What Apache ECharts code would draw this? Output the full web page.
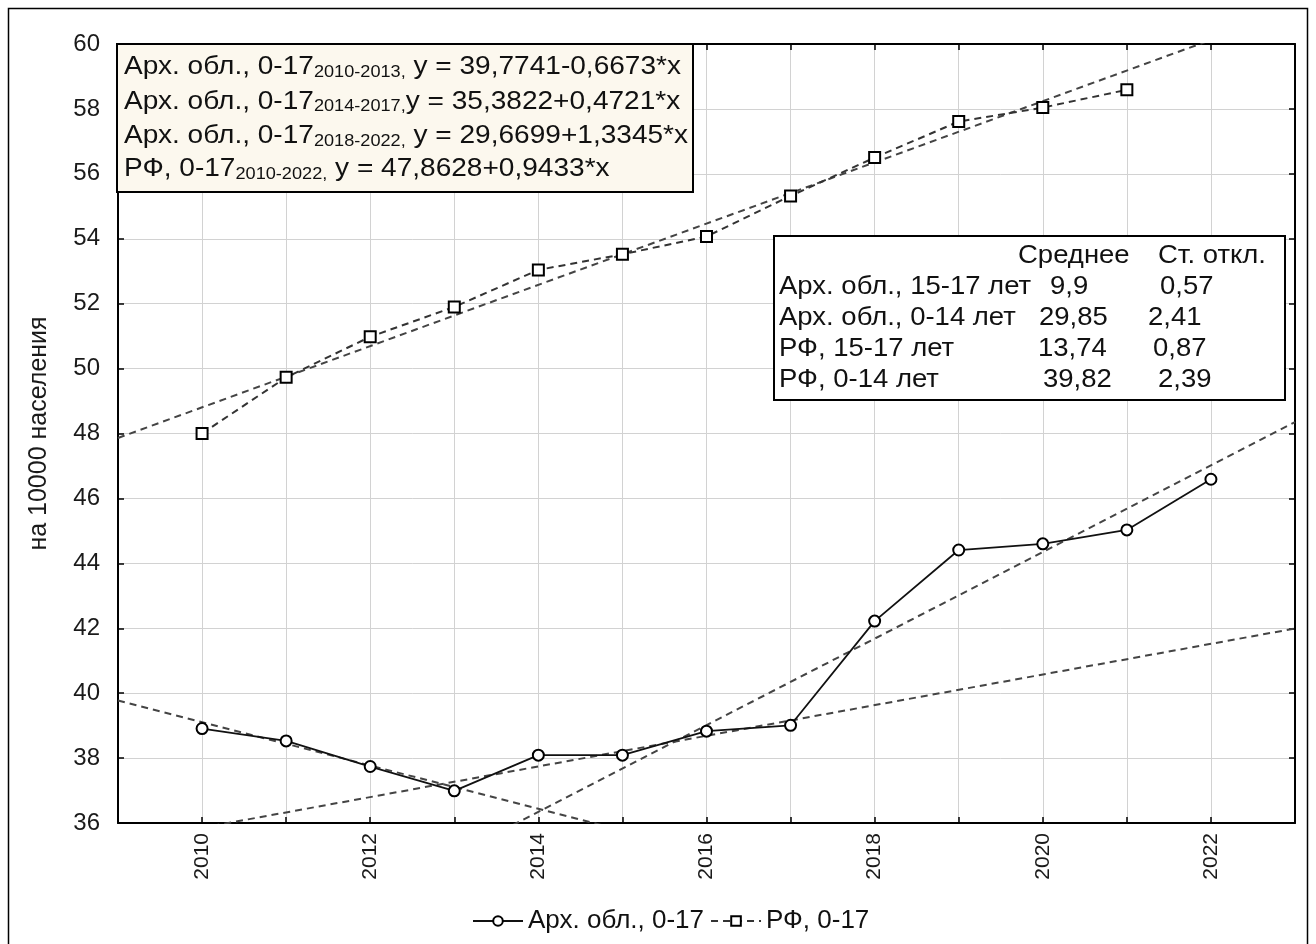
<!DOCTYPE html>
<html>
<head>
<meta charset="utf-8">
<script src="https://cdn.jsdelivr.net/npm/echarts@6/dist/echarts.min.js"></script>
<style>
  html, body { margin: 0; padding: 0; background: #ffffff; }
  #chart { width: 1316px; height: 944px; }
</style>
</head>
<body>
<div id="chart"></div>
<script>
// ---- data ----
const years = [2010, 2011, 2012, 2013, 2014, 2015, 2016, 2017, 2018, 2019, 2020, 2021, 2022];
const arkhValues = [38.91, 38.53, 37.74, 36.99, 38.09, 38.09, 38.83, 39.01, 42.22, 44.41, 44.60, 45.03, 46.59];
const rfYears = [2010, 2011, 2012, 2013, 2014, 2015, 2016, 2017, 2018, 2019, 2020, 2021];
const rfValues = [48.00, 49.73, 50.98, 51.90, 53.04, 53.52, 54.07, 55.32, 56.50, 57.61, 58.04, 58.59];
const seriesNames = ['Арх. обл., 0-17', 'РФ, 0-17'];

// linear fits, x = 1 corresponds to 2010
const trendNames = ['Арх. обл., 0-17', 'Арх. обл., 0-17', 'Арх. обл., 0-17', 'РФ, 0-17'];
const trendPeriods = ['2010-2013', '2014-2017', '2018-2022', '2010-2022'];
const trendIntercepts = [39.7741, 35.3822, 29.6699, 47.8628];
const trendSlopes = [-0.6673, 0.4721, 1.3345, 0.9433];

// summary table
const statsHeader = ['Среднее', 'Ст. откл.'];
const statsLabels = ['Арх. обл., 15-17 лет', 'Арх. обл., 0-14 лет', 'РФ, 15-17 лет', 'РФ, 0-14 лет'];
const statsMean = ['9,9', '29,85', '13,74', '39,82'];
const statsSd = ['0,57', '2,41', '0,87', '2,39'];

const xMin = 2009, xMax = 2023, yMin = 36, yMax = 60;
const yAxisTitle = 'на 10000 населения';

// ---- layout ----
const FONT = '"Liberation Sans", Arial, sans-serif';
const eqBox = { x: 117, y: 44, w: 576, h: 148 };
const eqRowsY = [67, 101.5, 136, 169];
const stBox = { x: 774, y: 236, w: 511, h: 164 };
const stRowsY = [256, 287, 318, 349, 380];
const stHeaderX = [1018, 1158];
const stMeanX = [1050, 1039, 1038, 1043];
const stSdX = [1160, 1148, 1153, 1158];
const TEXT_SX = 1.1;

const fmt = v => Math.abs(v).toFixed(4).replace('.', ',');

const chart = echarts.init(document.getElementById('chart'), null, { renderer: 'canvas' });

const trendSeries = trendIntercepts.map((a, i) => {
  const b = trendSlopes[i];
  return {
    type: 'line',
    name: 'trend' + i,
    data: [[xMin, a + b * (xMin - 2009)], [xMax, a + b * (xMax - 2009)]],
    showSymbol: false,
    symbol: 'none',
    silent: true,
    clip: true,
    z: 3,
    lineStyle: { color: '#444', width: 2, type: [7, 5] }
  };
});

const eqTexts = trendNames.map((n, i) => {
  const tight = i === 1;
  const sign = trendSlopes[i] < 0 ? '-' : '+';
  const txt = n + '{sub|' + trendPeriods[i] + ',}' + (tight ? '' : ' ') +
    'y = ' + fmt(trendIntercepts[i]) + sign + fmt(trendSlopes[i]) + '*x';
  return {
    type: 'text', x: eqBox.x + 7, y: eqRowsY[i], scaleX: TEXT_SX, z: 101,
    style: {
      text: txt, fill: '#111', font: '25.5px ' + FONT, verticalAlign: 'middle', align: 'left',
      rich: { sub: { fontSize: 16.5, fontFamily: FONT, fill: '#111', padding: [10, 0, 0, 0] } }
    }
  };
});

const stTexts = [];
statsHeader.forEach((h, j) => stTexts.push({ type: 'text', x: stHeaderX[j], y: stRowsY[0], scaleX: TEXT_SX, z: 101,
  style: { text: h, fill: '#111', font: '25px ' + FONT, verticalAlign: 'middle' } }));
statsLabels.forEach((l, i) => {
  const y = stRowsY[i + 1];
  stTexts.push({ type: 'text', x: stBox.x + 5, y, scaleX: TEXT_SX, z: 101,
    style: { text: l, fill: '#111', font: '25px ' + FONT, verticalAlign: 'middle' } });
  stTexts.push({ type: 'text', x: stMeanX[i], y, scaleX: TEXT_SX, z: 101,
    style: { text: statsMean[i], fill: '#111', font: '25px ' + FONT, verticalAlign: 'middle' } });
  stTexts.push({ type: 'text', x: stSdX[i], y, scaleX: TEXT_SX, z: 101,
    style: { text: statsSd[i], fill: '#111', font: '25px ' + FONT, verticalAlign: 'middle' } });
});

const frameAxis = {
  axisLine: { show: true, lineStyle: { color: '#000', width: 2 } },
  axisTick: { show: true, inside: true, length: 6, lineStyle: { color: '#000', width: 1.5 } }
};

const option = {
  animation: false,
  backgroundColor: '#ffffff',
  grid: { left: 118, right: 21, top: 44, bottom: 121, containLabel: false },
  xAxis: [
    {
      type: 'value', min: xMin, max: xMax, interval: 1, position: 'bottom',
      ...frameAxis,
      axisLabel: {
        rotate: 90, margin: 10, fontSize: 21, fontFamily: FONT, color: '#1a1a1a',
        formatter: v => (v % 2 === 0 && v > xMin && v < xMax) ? String(v) : ''
      },
      splitLine: { show: true, lineStyle: { color: '#d2d2d2', width: 1 } }
    },
    {
      type: 'value', min: xMin, max: xMax, interval: 1, position: 'top',
      ...frameAxis, axisLabel: { show: false }, splitLine: { show: false }
    }
  ],
  yAxis: [
    {
      type: 'value', min: yMin, max: yMax, interval: 2, position: 'left',
      ...frameAxis,
      axisLabel: { margin: 18, fontSize: 24, fontFamily: FONT, color: '#1a1a1a' },
      splitLine: { show: true, lineStyle: { color: '#d2d2d2', width: 1 } },
      name: yAxisTitle, nameLocation: 'middle', nameRotate: 90, nameGap: 66,
      nameTextStyle: { fontSize: 25, fontFamily: FONT, color: '#1a1a1a' }
    },
    {
      type: 'value', min: yMin, max: yMax, interval: 2, position: 'right',
      ...frameAxis, axisLabel: { show: false }, splitLine: { show: false }
    }
  ],
  legend: {
    data: seriesNames,
    left: 467, top: 903,
    itemWidth: 50, itemHeight: 12, itemGap: 6,
    textStyle: { fontSize: 26, fontFamily: FONT, color: '#111' }
  },
  series: [
    ...trendSeries,
    {
      type: 'line', name: seriesNames[0],
      data: years.map((y, i) => [y, arkhValues[i]]),
      symbol: 'circle', symbolSize: 11, showAllSymbol: true, z: 5,
      lineStyle: { color: '#111', width: 1.8, type: 'solid' },
      itemStyle: { color: '#ffffff', borderColor: '#000', borderWidth: 2 }
    },
    {
      type: 'line', name: seriesNames[1],
      data: rfYears.map((y, i) => [y, rfValues[i]]),
      symbol: 'rect', symbolSize: 11, showAllSymbol: true, z: 5,
      lineStyle: { color: '#333', width: 2, type: [7, 5] },
      itemStyle: { color: '#ffffff', borderColor: '#000', borderWidth: 2 }
    }
  ],
  graphic: [
    { type: 'rect', z: -1, silent: true, shape: { x: 8.5, y: 8.5, width: 1299, height: 950 },
      style: { fill: 'none', stroke: '#000', lineWidth: 1.5 } },
    { type: 'rect', z: 100, shape: { x: eqBox.x, y: eqBox.y, width: eqBox.w, height: eqBox.h },
      style: { fill: '#fcf8ee', stroke: '#000', lineWidth: 2 } },
    ...eqTexts,
    { type: 'rect', z: 100, shape: { x: stBox.x, y: stBox.y, width: stBox.w, height: stBox.h },
      style: { fill: '#ffffff', stroke: '#000', lineWidth: 2 } },
    ...stTexts
  ]
};

chart.setOption(option);
</script>
</body>
</html>
